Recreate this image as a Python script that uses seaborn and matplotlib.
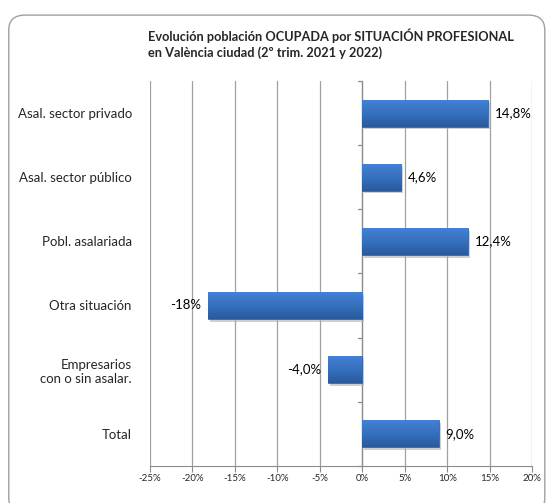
import matplotlib
matplotlib.use("Agg")
import matplotlib.pyplot as plt
import matplotlib.patheffects as pe
from matplotlib.patches import FancyBboxPatch
from matplotlib.colors import LinearSegmentedColormap
from matplotlib.ticker import MultipleLocator, FuncFormatter
import numpy as np
import seaborn as sns
import pandas as pd

categories = ["Asal. sector privado", "Asal. sector público", "Pobl. asalariada",
              "Otra situación", "Empresarios\ncon o sin asalar.", "Total"]
values = [14.8, 4.6, 12.4, -18.2, -4.0, 9.0]
labels = ["14,8%", "4,6%", "12,4%", "-18%", "-4,0%", "9,0%"]
title = "Evolución población OCUPADA por SITUACIÓN PROFESIONAL\nen València ciudad (2º trim. 2021 y 2022)"

sns.set_style("white")
plt.rcParams['font.family'] = ['Lato', 'DejaVu Sans']

df = pd.DataFrame({"cat": categories, "val": values})

fig = plt.figure(figsize=(5.47, 5.03), dpi=100)
ax = fig.add_axes([0.274, 0.074, 0.699, 0.765])

sns.barplot(data=df, y="cat", x="val", orient="h", color="#3a70bd",
            saturation=1, width=0.42, ax=ax, zorder=3)

ax.set_xlim(-25, 20)
ax.set_ylim(len(categories) - 0.5, -0.5)

cmap = LinearSegmentedColormap.from_list("g", ["#4182d4", "#3670bd", "#2a5a9c"])
grad = np.linspace(0, 1, 64).reshape(-1, 1)
for p in list(ax.patches):
    p.set_edgecolor("#2c5a9a")
    p.set_linewidth(0.5)
    p.set_path_effects([pe.SimplePatchShadow(offset=(1.5, -2), shadow_rgbFace="#b0b0b0", alpha=0.6), pe.Normal()])
    x0, y0 = p.get_x(), p.get_y()
    w, h = p.get_width(), p.get_height()
    im = ax.imshow(grad, cmap=cmap, aspect="auto", extent=(x0, x0 + w, y0 + h, y0),
                   origin="upper", zorder=3.5, interpolation="bilinear")
    im.set_clip_path(p)

ax.set_xlim(-25, 20)
ax.set_ylim(len(categories) - 0.5, -0.5)
ax.xaxis.set_major_locator(MultipleLocator(5))
ax.xaxis.set_major_formatter(FuncFormatter(lambda v, _: f"{v:.0f}%"))
ax.grid(axis="x", color="#a0a0a0", linewidth=0.9, zorder=0)
ax.set_axisbelow(True)
for s in ["top", "right", "left"]:
    ax.spines[s].set_visible(False)
ax.spines["bottom"].set_color("#8c8c8c")
ax.tick_params(axis="x", length=4, color="#8c8c8c", labelsize=7, pad=2, direction="out", bottom=True)
ax.tick_params(axis="y", length=0, labelsize=9.5, pad=13)
ax.set_xlabel("")
ax.set_ylabel("")

# zero axis with category tick marks
ax.axvline(0, color="#8c8c8c", linewidth=0.9, zorder=2)
for b in [i + 0.5 for i in range(-1, len(categories))]:
    ax.plot([-0.5, 0], [b, b], color="#8c8c8c", linewidth=0.9, zorder=2, clip_on=False)

for i, (v, lab) in enumerate(zip(values, labels)):
    if v >= 0:
        ax.text(v + 0.8, i, lab, va="center", ha="left", fontsize=9.5, color="#000000", zorder=5)
    else:
        ax.text(v - 0.8, i, lab, va="center", ha="right", fontsize=9.5, color="#000000", zorder=5)

fig.text(0.27, 0.913, title, fontsize=9.2, fontweight="bold", ha="left", va="center",
         linespacing=1.4)

border = FancyBboxPatch((0.016, -0.02), 0.98, 0.99, boxstyle="round,pad=0,rounding_size=0.03",
                        transform=fig.transFigure, fill=False, edgecolor="#a0a0a0", linewidth=1.0)
fig.patches.append(border)

fig.savefig("out.png", dpi=100)
